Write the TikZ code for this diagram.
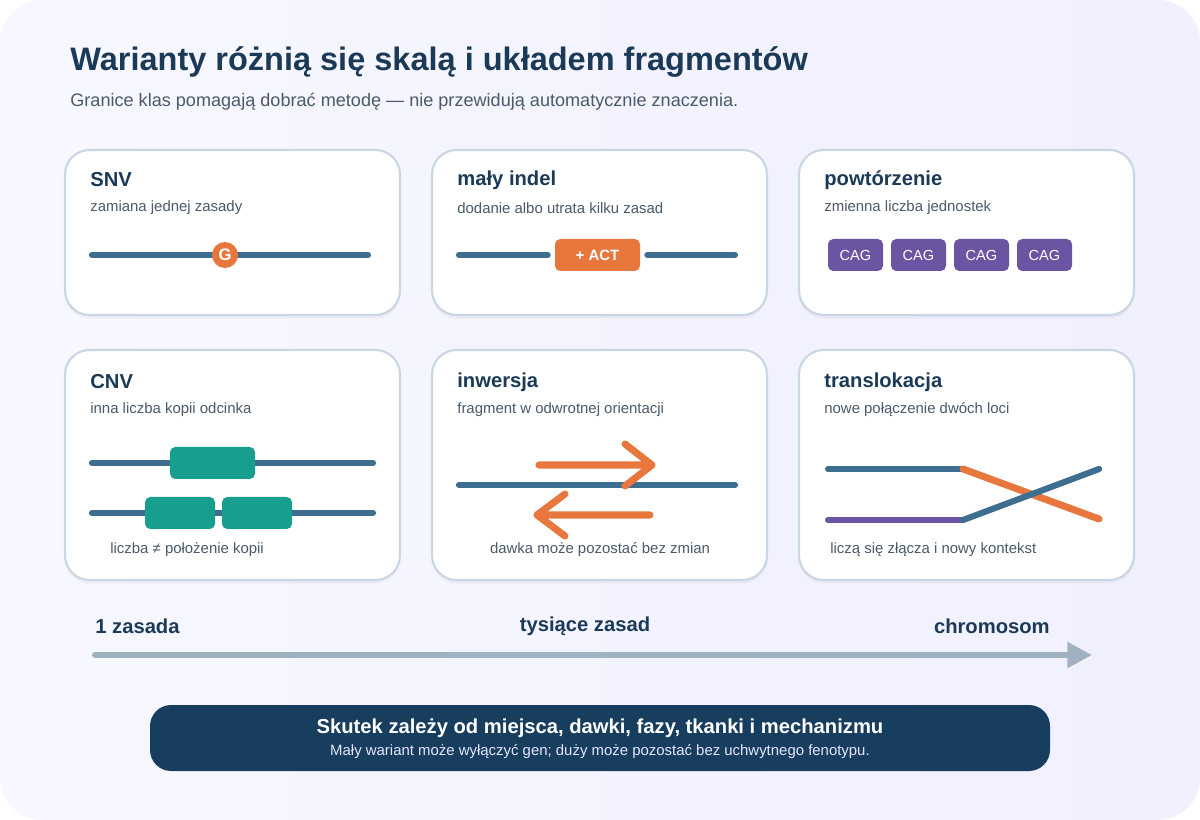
\documentclass[tikz,border=0pt]{standalone}
\usepackage{fontspec}
\setmainfont{Liberation Sans}
\usetikzlibrary{positioning,shadows,arrows.meta}
\definecolor{navy}{HTML}{1B3A57}
\definecolor{dna}{HTML}{3D6E8F}
\definecolor{orng}{HTML}{E8773D}
\definecolor{purp}{HTML}{6B55A3}
\definecolor{teal}{HTML}{179E8E}
\definecolor{grey}{HTML}{4A5A6A}
\definecolor{axis}{HTML}{A0B1C2}
\definecolor{band}{HTML}{173D5F}
\definecolor{edge}{HTML}{C9D6E3}
\begin{document}
\begin{tikzpicture}[x=0.02cm, y=-0.02cm,
  card/.style={draw=edge, line width=1.2pt, fill=white, rounded corners=14, drop shadow={opacity=0.08, shadow xshift=0pt, shadow yshift=-2pt}},
  ctitle/.style={anchor=west, text=navy, font=\fontsize{11.5}{13}\selectfont\bfseries, inner sep=0},
  csub/.style={anchor=west, text=grey, font=\fontsize{8.5}{10}\selectfont, inner sep=0},
  strand/.style={dna, line width=3.5pt, line cap=round},
  tag/.style={rounded corners=3, text=white, font=\fontsize{8.3}{10}\selectfont, inner sep=0, minimum height=32*0.02cm},
  scale lbl/.style={text=navy, font=\fontsize{11.5}{13}\selectfont\bfseries, inner sep=0},
  orline/.style={orng, line width=4pt, line cap=round, line join=round}]
  % background
  \path[left color=blue!3!white, right color=blue!6!white, rounded corners=24] (0,0) rectangle (1200,820);
  \useasboundingbox (0,0) rectangle (1200,820);
  % header
  \node[anchor=west, text=navy, font=\fontsize{18.5}{22}\selectfont\bfseries, inner sep=0] (title) at (70,62) {Warianty różnią się skalą i układem fragmentów};
  \node[anchor=west, text=grey, font=\fontsize{10.3}{12}\selectfont, inner sep=0] (subtitle) at (70,102) {Granice klas pomagają dobrać metodę — nie przewidują automatycznie znaczenia.};
  % cards
  \foreach \x in {65,432,799}{
    \draw[card] (\x,150) rectangle ++(335,165);
    \draw[card] (\x,350) rectangle ++(335,230);
  }
  % SNV
  \node[ctitle] (snv) at (90,180) {SNV};
  \node[csub] (snvsub) at (90,208) {zamiana jednej zasady};
  \coordinate (snvL) at (92,255); \coordinate (snvR) at (368,255);
  \draw[strand] (snvL) -- (snvR);
  \node[circle, fill=orng, minimum size=26*0.02cm, inner sep=0, text=white, font=\fontsize{9.5}{10}\selectfont\bfseries] (g) at (225,255) {G};
  % indel
  \node[ctitle] (indel) at (457,180) {mały indel};
  \node[csub] (indelsub) at (457,208) {dodanie albo utrata kilku zasad};
  \node[tag, fill=orng, minimum width=85*0.02cm, font=\fontsize{8.5}{10}\selectfont\bfseries] (act) at (597.5,255) {+ ACT};
  \coordinate (inL) at (459,255); \coordinate (inR) at (735,255);
  \draw[strand] (inL) -- ([xshift=-7*0.02cm]act.west);
  \draw[strand] ([xshift=7*0.02cm]act.east) -- (inR);
  % repeat
  \node[ctitle] (rep) at (824,180) {powtórzenie};
  \node[csub] (repsub) at (824,208) {zmienna liczba jednostek};
  \foreach \i in {0,...,3}
    \node[tag, fill=purp, minimum width=55*0.02cm] (cag\i) at (855.5+63*\i,255) {CAG};
  % CNV
  \node[ctitle] (cnv) at (90,382) {CNV};
  \node[csub] (cnvsub) at (90,410) {inna liczba kopii odcinka};
  \coordinate (c1L) at (92,463); \coordinate (c1R) at (373,463);
  \coordinate (c2L) at (92,513); \coordinate (c2R) at (373,513);
  \draw[strand] (c1L) -- (c1R);
  \draw[strand] (c2L) -- (c2R);
  \node[tag, fill=teal, minimum width=85*0.02cm] (copy1) at (212.5,463) {};
  \node[tag, fill=teal, minimum width=70*0.02cm] (copy2) at (180,513) {};
  \node[tag, fill=teal, minimum width=70*0.02cm] (copy3) at (257,513) {};
  \node[csub] (cnvnote) at (110,550) {liczba ≠ położenie kopii};
  % inversion
  \node[ctitle] (inv) at (457,382) {inwersja};
  \node[csub] (invsub) at (457,410) {fragment w odwrotnej orientacji};
  \coordinate (ivL) at (459,485); \coordinate (ivR) at (735,485);
  \draw[strand] (ivL) -- (ivR);
  \coordinate (fa) at (539,465); \coordinate (fb) at (652,465);
  \coordinate (ra) at (650,515); \coordinate (rb) at (537,515);
  \draw[orline] (fa) -- (fb) (625,444) -- (fb) -- (625,486);
  \draw[orline] (ra) -- (rb) (565,494) -- (rb) -- (565,536);
  \node[csub, anchor=center] (invnote) at (600,550) {dawka może pozostać bez zmian};
  % translocation
  \node[ctitle] (tr) at (824,382) {translokacja};
  \node[csub] (trsub) at (824,410) {nowe połączenie dwóch loci};
  \coordinate (aL) at (828,469); \coordinate (aJ) at (963,469); \coordinate (aR) at (1099,519);
  \coordinate (bL) at (828,520); \coordinate (bJ) at (963,520); \coordinate (bR) at (1099,469);
  \draw[strand] (aL) -- (aJ);
  \draw[orline] (aJ) -- (aR);
  \draw[strand, purp] (bL) -- (bJ);
  \draw[strand] (bJ) -- (bR);
  \node[csub] (trnote) at (830,550) {liczą się złącza i nowy kontekst};
  % scale axis
  \node[scale lbl, anchor=west] (s1) at (95,626) {1 zasada};
  \node[scale lbl] (s2) at (585,626) {tysiące zasad};
  \node[scale lbl, anchor=east] (s3) at (1050,626) {chromosom};
  \coordinate (axL) at (95,655); \coordinate (axR) at (1092,655);
  \draw[axis, line width=3.5pt, line cap=round, -{Triangle[length=14pt, width=14pt]}] (axL) -- (axR);
  % bottom band
  \node[fill=band, rounded corners=12, minimum width=900*0.02cm, minimum height=66*0.02cm] (bandbox) at (600,738) {};
  \node[text=white, font=\fontsize{11.5}{13}\selectfont\bfseries, inner sep=0] (band1) at (600,728) {Skutek zależy od miejsca, dawki, fazy, tkanki i mechanizmu};
  \node[text=white!90!blue, font=\fontsize{8.5}{10}\selectfont, inner sep=0] (band2) at (600,752) {Mały wariant może wyłączyć gen; duży może pozostać bez uchwytnego fenotypu.};
\end{tikzpicture}
\end{document}
